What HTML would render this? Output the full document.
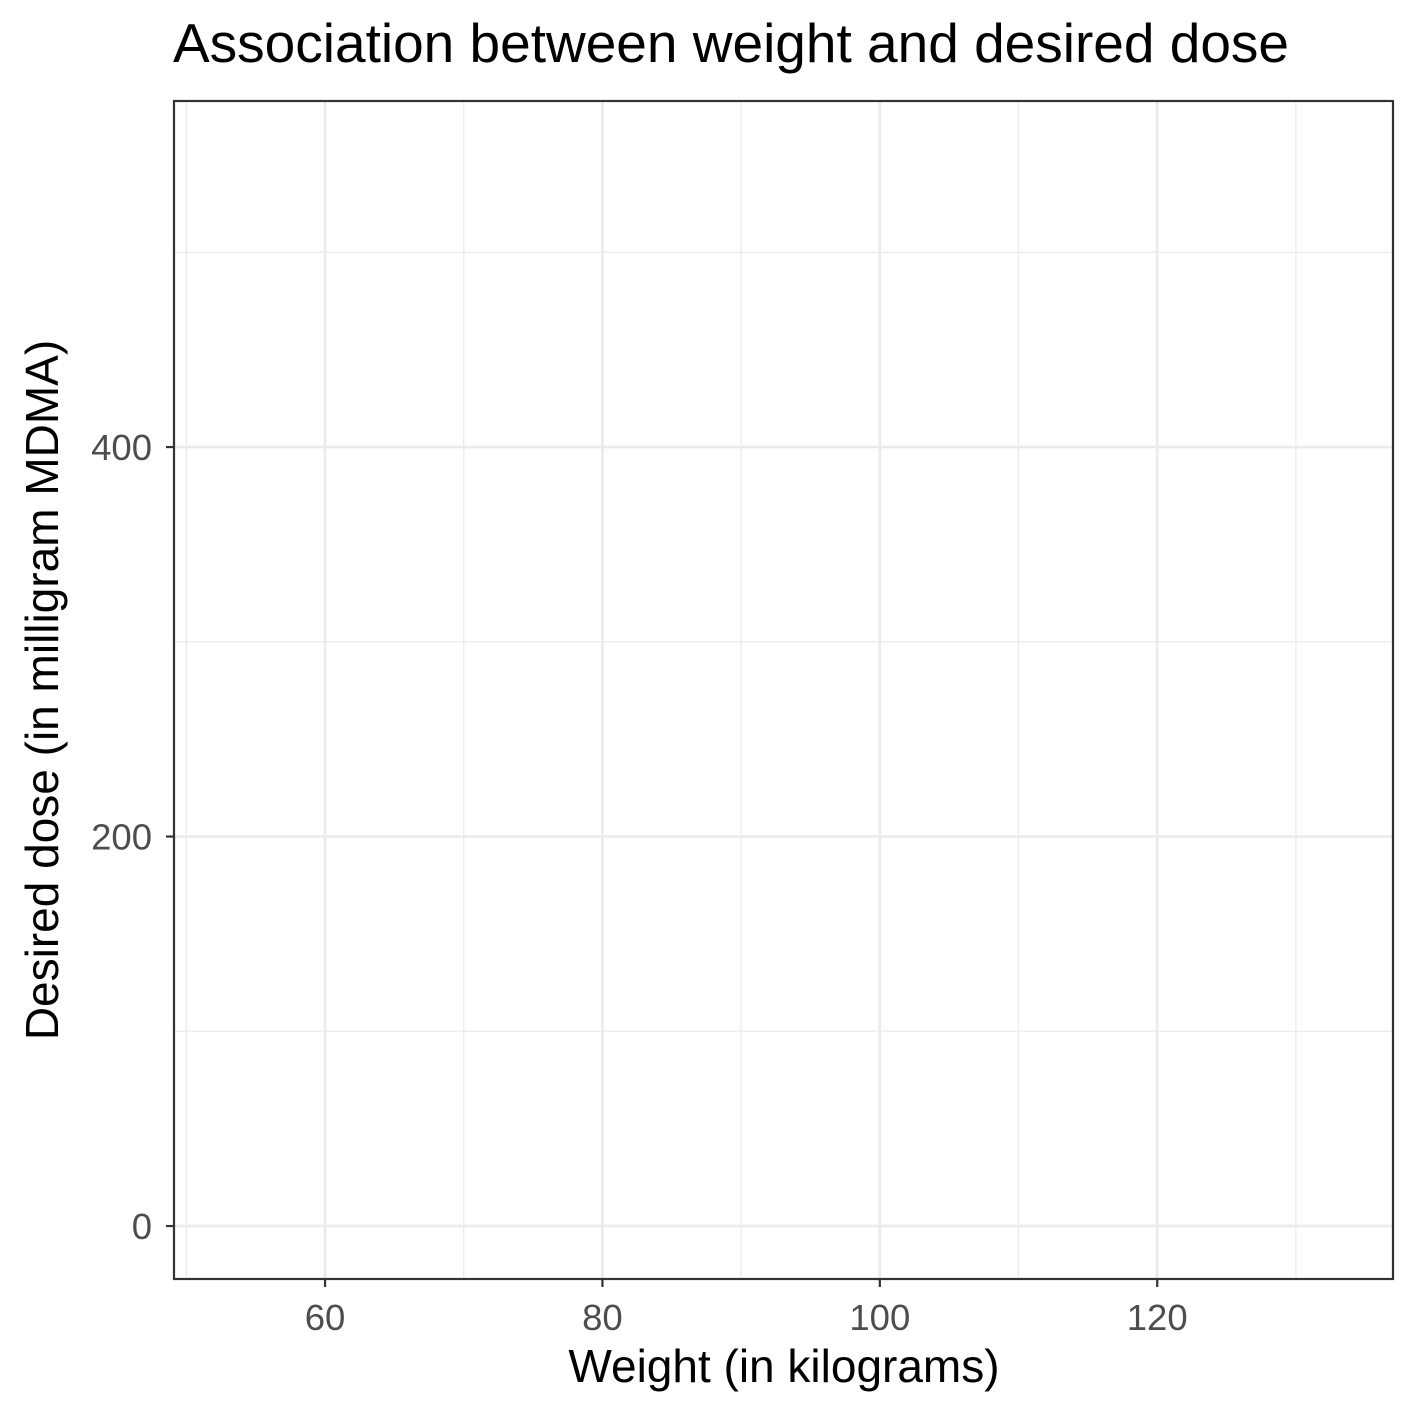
<!DOCTYPE html>
<html><head><meta charset="utf-8"><style>
html,body{margin:0;padding:0;background:#fff;}
svg{display:block;font-family:"Liberation Sans",Arial,sans-serif;}
</style></head><body>
<svg id="chart" width="1417" height="1417" viewBox="0 0 1417 1417">
<rect x="0" y="0" width="1417" height="1417" fill="#fff"/>
<text x="173" y="62" font-size="55" fill="#000">Association between weight and desired dose</text>
<g id="grid"></g>
<g id="points"></g>
<rect x="174" y="101" width="1219" height="1178" fill="none" stroke="#333" stroke-width="2.2"/>
<g id="axes"></g>
<text x="784" y="1382" font-size="46" text-anchor="middle" fill="#000">Weight (in kilograms)</text>
<text transform="translate(58,690) rotate(-90)" font-size="46" text-anchor="middle" fill="#000">Desired dose (in milligram MDMA)</text>
</svg>
<script>
const weights = [];
const doses = [];
const xMajorTicks = [60, 80, 100, 120];
const xMinorTicks = [50, 70, 90, 110, 130];
const yMajorTicks = [0, 200, 400];
const yMinorTicks = [100, 300, 500];

const X0 = 174, X1 = 1393, Y0 = 1279, Y1 = 101;
const xMin = 49.11, xMax = 137.0, yMin = -27.2, yMax = 577.7;
function xs(v){ return X0 + (v - xMin) / (xMax - xMin) * (X1 - X0); }
function ys(v){ return Y0 - (v - yMin) / (yMax - yMin) * (Y0 - Y1); }
const NS = "http://www.w3.org/2000/svg";
const grid = document.getElementById('grid');
const axes = document.getElementById('axes');
const pts = document.getElementById('points');
function mk(tag, attrs, parent){ const e = document.createElementNS(NS, tag); for (const k in attrs) e.setAttribute(k, attrs[k]); parent.appendChild(e); return e; }

xMinorTicks.forEach(v => {
  const l = mk('line', {x1: xs(v), x2: xs(v), y1: Y1, y2: Y0, stroke: '#ebebeb', 'stroke-width': 1.3}, grid);
  
  
});
yMinorTicks.forEach(v => {
  const l = mk('line', {x1: X0, x2: X1, y1: ys(v), y2: ys(v), stroke: '#ebebeb', 'stroke-width': 1.3}, grid);
  
  
});
xMajorTicks.forEach(v => {
  const l = mk('line', {x1: xs(v), x2: xs(v), y1: Y1, y2: Y0, stroke: '#ebebeb', 'stroke-width': 2.7}, grid);
  
  
  const t = mk('line', {x1: xs(v), x2: xs(v), y1: Y0, y2: Y0 + 8, stroke: '#333', 'stroke-width': 2.2}, axes);
  
  
  const tx = mk('text', {x: xs(v), y: 1330, 'font-size': 36.5, 'text-anchor': 'middle', fill: '#4d4d4d'}, axes);
  tx.textContent = v;
  
  
});
yMajorTicks.forEach(v => {
  const l = mk('line', {x1: X0, x2: X1, y1: ys(v), y2: ys(v), stroke: '#ebebeb', 'stroke-width': 2.7}, grid);
  
  
  const t = mk('line', {x1: X0 - 8, x2: X0, y1: ys(v), y2: ys(v), stroke: '#333', 'stroke-width': 2.2}, axes);
  
  
  const tx = mk('text', {x: 152, y: ys(v) + 13, 'font-size': 36.5, 'text-anchor': 'end', fill: '#4d4d4d'}, axes);
  tx.textContent = v;
  
  
});
weights.forEach((w, i) => {
  const c = mk('circle', {cx: xs(w), cy: ys(doses[i]), r: 4, fill: '#000'}, pts);
  
  
});
</script>
</body></html>
